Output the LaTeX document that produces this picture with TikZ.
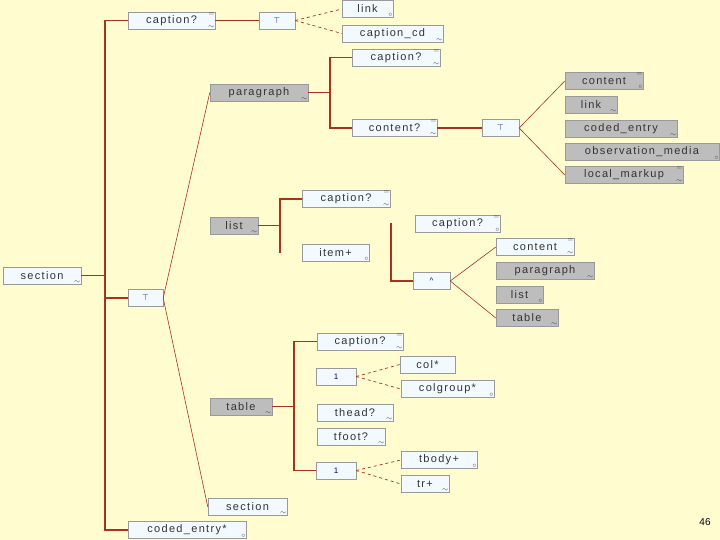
\documentclass[tikz,border=0pt]{standalone}
\usepackage{xcolor}
\usepackage{fontspec}
\setmainfont{Liberation Sans}
\newfontfamily\boxfont[LetterSpace=12]{Liberation Sans}
\usepackage{tikz}
\usetikzlibrary{positioning}
\definecolor{slidebg}{HTML}{FFFDD0}
\definecolor{boxfill}{HTML}{F2FAFF}
\definecolor{refgray}{HTML}{BDBDBD}
\definecolor{treered}{HTML}{A8321E}
\tikzset{
  elbox/.style={draw=black!40,fill=boxfill,inner sep=0pt,minimum height=17pt,font=\boxfont\fontsize{11}{11}\selectfont,text=black!80},
  refbox/.style={elbox,fill=refgray},
  grpbox/.style={elbox,font=\footnotesize,text=blue!45!black},
  mk/.style={inner sep=0.6pt,font=\fontsize{7}{7}\selectfont,text=black!75},
  occw/.style={label={[mk,anchor=south east]south east:$\sim$}},
  occo/.style={label={[mk,anchor=south east]south east:$\circ$}},
  occe/.style={label={[mk,anchor=north east]north east:$=$}},
  treeln/.style={treered,line width=1.3pt},
  choln/.style={treered,line width=0.6pt},
  dashln/.style={treered,dashed,line width=0.7pt},
}

\begin{document}
\begin{tikzpicture}[x=1pt,y=-1pt]
  \fill[slidebg] (0,0) rectangle (720,540);
  \useasboundingbox (0,0) rectangle (720,540);
  % section and its sequence
  \node[elbox,occw,minimum width=78pt] (nSec) at (42,275.5) {section};
  \node[elbox,occe,occw,minimum width=87pt] (nCap) at (171.5,20.5) {caption?};
  \node[grpbox,minimum width=36pt] (nChA) at (277,20.5) {$\top$};
  \node[elbox,occo,minimum width=51pt] (nLink) at (367.5,9) {link};
  \node[elbox,occw,minimum width=101pt] (nCapCd) at (392.5,33.5) {caption\_cd};
  \node[grpbox,minimum width=35pt] (nChS) at (145.5,298) {$\top$};
  \node[elbox,occo,minimum width=118pt] (nCoded) at (187,530) {coded\_entry*};
  % paragraph
  \node[refbox,occw,minimum width=98pt] (nPara) at (259,92.5) {paragraph};
  \node[elbox,occe,occw,minimum width=88pt] (nParaCap) at (396,57.5) {caption?};
  \node[elbox,occe,occw,minimum width=85pt] (nContQ) at (394.5,128) {content?};
  \node[grpbox,minimum width=37pt] (nChB) at (500.5,128) {$\top$};
  \node[refbox,occe,occo,minimum width=78pt] (nContG) at (604,81) {content};
  \node[refbox,occw,minimum width=52pt] (nLinkG) at (591,105) {link};
  \node[refbox,occw,minimum width=112pt] (nCodedG) at (621,128.5) {coded\_entry};
  \node[refbox,occo,minimum width=154pt] (nObsG) at (642,151.5) {observation\_media};
  \node[refbox,occe,occw,minimum width=118pt] (nLocG) at (624,175) {local\_markup};
  % list
  \node[refbox,occw,minimum width=48pt] (nList) at (234,225.5) {list};
  \node[elbox,occe,occw,minimum width=88pt] (nListCap) at (346,199) {caption?};
  \node[elbox,occo,minimum width=67pt] (nItem) at (335.5,252.5) {item+};
  \node[elbox,occe,occo,minimum width=85pt] (nItemCap) at (457.5,223.5) {caption?};
  \node[grpbox,minimum width=37pt] (nSeqI) at (431.5,281) {\textasciicircum};
  \node[elbox,occe,occw,minimum width=78pt] (nItemCont) at (535,247) {content};
  \node[refbox,occw,minimum width=98pt] (nItemPara) at (545,270.5) {paragraph};
  \node[refbox,occo,minimum width=47pt] (nItemList) at (519.5,294.5) {list};
  \node[refbox,occw,minimum width=62pt] (nItemTbl) at (527,318) {table};
  % table
  \node[refbox,occw,minimum width=62pt] (nTbl) at (241,406.5) {table};
  \node[elbox,occe,occw,minimum width=86pt] (nTblCap) at (360,341.5) {caption?};
  \node[grpbox,minimum width=40pt] (nOneA) at (336,376.5) {1};
  \node[elbox,minimum width=55pt] (nCol) at (427.5,364.5) {col*};
  \node[elbox,occo,minimum width=93pt] (nColg) at (447.5,389) {colgroup*};
  \node[elbox,occw,minimum width=76pt] (nThead) at (355,413) {thead?};
  \node[elbox,occw,minimum width=68pt] (nTfoot) at (351,436.5) {tfoot?};
  \node[grpbox,minimum width=40pt] (nOneB) at (336,470.5) {1};
  \node[elbox,occo,minimum width=76pt] (nTbody) at (439,460) {tbody+};
  \node[elbox,occw,minimum width=48pt] (nTr) at (425,484) {tr+};
  \node[elbox,occw,minimum width=79pt] (nSecSub) at (247.5,507) {section};
  \node[font=\fontsize{10}{10}\selectfont] (nPage) at (705,522) {46};
  % joints
  \coordinate (jSec) at (105,275.5);
  \coordinate (jPara) at (330,92.5);
  \coordinate (jList) at (280,225.5);
  \coordinate (jItem) at (391,223.5);
  \coordinate (jTbl) at (294,406.5);
  % connectors
  \draw[treeln] (nSec.east) -- (jSec);
  \draw[treeln] (nCap.west) -| (jSec) |- (nCoded.west);
  \draw[treeln] (nChS.west) -- (nChS.west -| jSec);
  \draw[treeln] (nCap.east) -- (nChA.west);
  \draw[dashln] (nChA.east) -- (nLink.west);
  \draw[dashln] (nChA.east) -- (nCapCd.west);
  \draw[choln] (nChS.east) -- (nPara.west);
  \draw[choln] (nChS.east) -- (nSecSub.west);
  \draw[treeln] (nPara.east) -- (jPara);
  \draw[treeln] (nParaCap.west) -| (jPara) |- (nContQ.west);
  \draw[treeln] (nContQ.east) -- (nChB.west);
  \draw[choln] (nChB.east) -- (nContG.west);
  \draw[choln] (nChB.east) -- (nLocG.west);
  \draw[treeln] (nList.east) -- (jList);
  \draw[treeln] (nListCap.west) -| (jList) -- (jList |- nItem.west);
  \draw[treeln] (jItem) |- (nSeqI.west);
  \draw[choln] (nSeqI.east) -- (nItemCont.west);
  \draw[choln] (nSeqI.east) -- (nItemTbl.west);
  \draw[treeln] (nTbl.east) -- (jTbl);
  \draw[treeln] (nTblCap.west) -| (jTbl) |- (nOneB.west);
  \draw[dashln] (nOneA.east) -- (nCol.west);
  \draw[dashln] (nOneA.east) -- (nColg.west);
  \draw[dashln] (nOneB.east) -- (nTbody.west);
  \draw[dashln] (nOneB.east) -- (nTr.west);
\end{tikzpicture}
\end{document}
